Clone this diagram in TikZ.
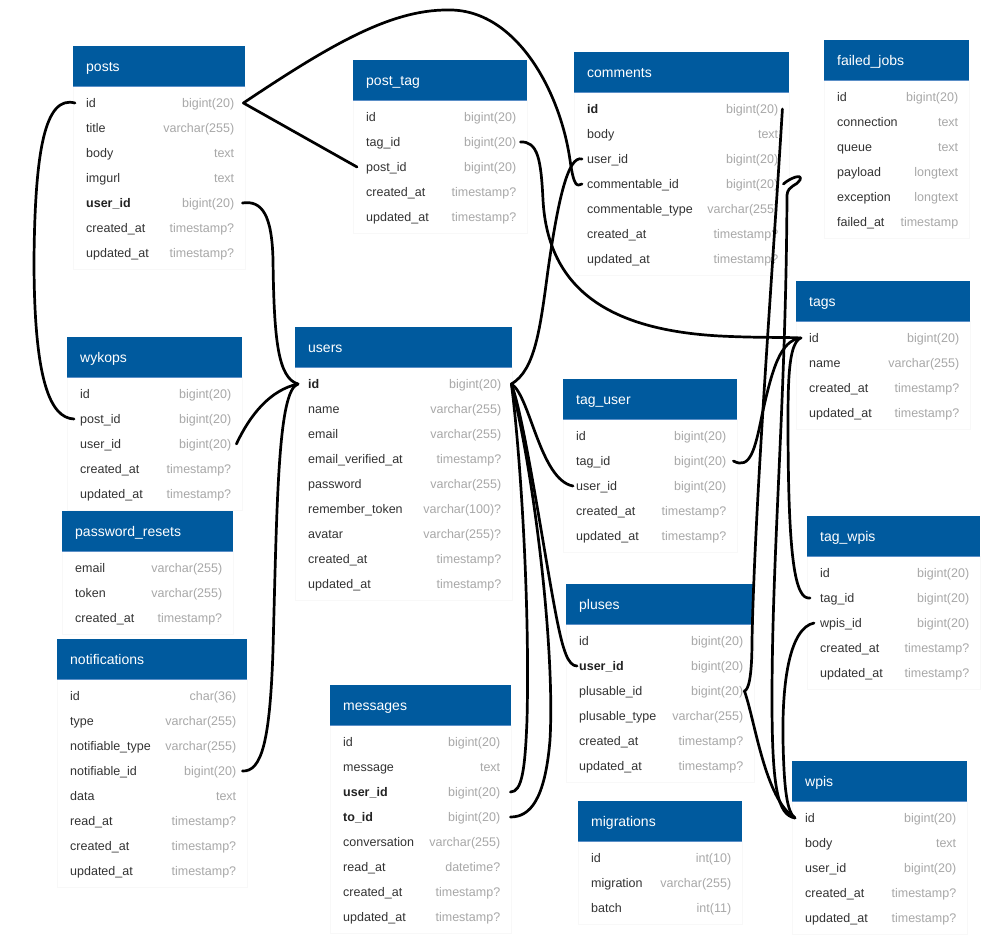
\documentclass[tikz,border=0pt]{standalone}
\usepackage{fontspec}
\setmainfont{Liberation Sans}
\definecolor{hdr}{HTML}{005A9E}
\definecolor{hdrline}{HTML}{5B8FC7}
\definecolor{fname}{HTML}{333333}
\definecolor{fbold}{HTML}{222222}
\definecolor{ftype}{HTML}{A8A8A8}
\definecolor{bodyline}{HTML}{F8F8F8}
\tikzset{
  hdrbox/.style={rectangle, fill=hdr, inner sep=0pt, minimum height=40pt},
  bodybox/.style={fill=white, draw=bodyline, line width=0.4pt},
  rowbox/.style={rectangle, inner sep=0pt, minimum height=25pt},
  hdrtext/.style={text=white, inner sep=0pt, font=\fontsize{14}{16}\selectfont, anchor=base west},
  nametext/.style={text=fname, inner sep=0pt, font=\fontsize{12.5}{15}\selectfont, anchor=base west},
  typetext/.style={text=ftype, inner sep=0pt, font=\fontsize{12.5}{15}\selectfont, anchor=base east},
  conn/.style={draw=black, line width=2.7pt, line cap=round, line join=round},
}
\newcommand\ertable[7]{%
  \path[bodybox] (#3,#4+40) rectangle ++(#5,{17+(#6-1)*25+16});
  \node[hdrbox, minimum width=#5pt, anchor=north west] (#1) at (#3,#4) {};
  \draw[hdrline, line width=1pt] (#1.south west) -- (#1.south east);
  \node[hdrtext] at ([xshift=13pt,yshift=-5pt]#1.west) {#2};
  \foreach \fldname/\fldtype/\fldw [count=\i] in {#7} {
    \node[rowbox, minimum width=#5pt, anchor=west] (#1-\fldname) at (#3,{#4+57+(\i-1)*25}) {};
    \if\fldw b\def\fldstyle{\bfseries\color{fbold}}\else\def\fldstyle{}\fi
    \node[nametext] at ([xshift=13pt,yshift=-4.5pt]#1-\fldname.west) {\fldstyle\fldname};
    \node[typetext] at ([xshift=-11pt,yshift=-4.5pt]#1-\fldname.east) {\fldtype};
  }%
}
\begin{document}
\catcode`\_=12
\begin{tikzpicture}[x=1pt,y=-1pt]
\fill[white] (0,0) rectangle (1000,950);
\useasboundingbox (0,0) rectangle (1000,950);

\ertable{posts}{posts}{73}{46}{172}{7}{id/bigint(20)/n, title/varchar(255)/n, body/text/n, imgurl/text/n, user_id/bigint(20)/b, created_at/timestamp?/n, updated_at/timestamp?/n}
\ertable{post_tag}{post_tag}{353}{60}{174}{5}{id/bigint(20)/n, tag_id/bigint(20)/n, post_id/bigint(20)/n, created_at/timestamp?/n, updated_at/timestamp?/n}
\ertable{comments}{comments}{574}{52}{215}{7}{id/bigint(20)/b, body/text/n, user_id/bigint(20)/n, commentable_id/bigint(20)/n, commentable_type/varchar(255)/n, created_at/timestamp?/n, updated_at/timestamp?/n}
\ertable{failed_jobs}{failed_jobs}{824}{40}{145}{6}{id/bigint(20)/n, connection/text/n, queue/text/n, payload/longtext/n, exception/longtext/n, failed_at/timestamp/n}
\ertable{tags}{tags}{796}{281}{174}{4}{id/bigint(20)/n, name/varchar(255)/n, created_at/timestamp?/n, updated_at/timestamp?/n}
\ertable{users}{users}{295}{327}{217}{9}{id/bigint(20)/b, name/varchar(255)/n, email/varchar(255)/n, email_verified_at/timestamp?/n, password/varchar(255)/n, remember_token/varchar(100)?/n, avatar/varchar(255)?/n, created_at/timestamp?/n, updated_at/timestamp?/n}
\ertable{wykops}{wykops}{67}{337}{175}{5}{id/bigint(20)/n, post_id/bigint(20)/n, user_id/bigint(20)/n, created_at/timestamp?/n, updated_at/timestamp?/n}
\ertable{tag_user}{tag_user}{563}{379}{174}{5}{id/bigint(20)/n, tag_id/bigint(20)/n, user_id/bigint(20)/n, created_at/timestamp?/n, updated_at/timestamp?/n}
\ertable{password_resets}{password_resets}{62}{511}{171}{3}{email/varchar(255)/n, token/varchar(255)/n, created_at/timestamp?/n}
\ertable{tag_wpis}{tag_wpis}{807}{516}{173}{5}{id/bigint(20)/n, tag_id/bigint(20)/n, wpis_id/bigint(20)/n, created_at/timestamp?/n, updated_at/timestamp?/n}
\ertable{pluses}{pluses}{566}{584}{188}{6}{id/bigint(20)/n, user_id/bigint(20)/b, plusable_id/bigint(20)/n, plusable_type/varchar(255)/n, created_at/timestamp?/n, updated_at/timestamp?/n}
\ertable{notifications}{notifications}{57}{639}{190}{8}{id/char(36)/n, type/varchar(255)/n, notifiable_type/varchar(255)/n, notifiable_id/bigint(20)/n, data/text/n, read_at/timestamp?/n, created_at/timestamp?/n, updated_at/timestamp?/n}
\ertable{messages}{messages}{330}{685}{181}{8}{id/bigint(20)/n, message/text/n, user_id/bigint(20)/b, to_id/bigint(20)/b, conversation/varchar(255)/n, read_at/datetime?/n, created_at/timestamp?/n, updated_at/timestamp?/n}
\ertable{migrations}{migrations}{578}{801}{164}{3}{id/int(10)/n, migration/varchar(255)/n, batch/int(11)/n}
\ertable{wpis}{wpis}{792}{761}{175}{5}{id/bigint(20)/n, body/text/n, user_id/bigint(20)/n, created_at/timestamp?/n, updated_at/timestamp?/n}

% connectors
\draw[conn] ([xshift=-2pt]posts-id.east) -- ([xshift=4pt]post_tag-post_id.west);
\draw[conn] ([xshift=-2pt]posts-id.east) .. controls (330,45) and (390,10) .. (447,10) .. controls (515,8) and (560,90) .. (570,160) .. controls (574,188) and (577,186) .. ([xshift=8pt]comments-commentable_id.west);
\draw[conn] ([xshift=-1pt]users-id.east) .. controls (535,370) and (540,330) .. (548,270) .. controls (558,200) and (568,155) .. ([xshift=8pt]comments-user_id.west);
\draw[conn] ([xshift=-7pt]post_tag-tag_id.east) .. controls (538,141) and (541,160) .. (543,200) .. controls (548,290) and (610,330) .. (720,336) .. controls (760,338) and (785,337) .. ([xshift=5pt]tags-id.west);
\draw[conn] ([xshift=-4pt]tag_user-tag_id.east) .. controls (750,470) and (755,450) .. (762,415) .. controls (772,370) and (780,340) .. ([xshift=5pt]tags-id.west);
\draw[conn] ([xshift=4pt]tags-id.west) .. controls (790,345) and (788,370) .. (788,420) .. controls (788,560) and (795,600) .. ([xshift=3pt]tag_wpis-tag_id.west);
\draw[conn] ([xshift=-7pt]comments-id.east) .. controls (772,280) and (755,500) .. (752,640) .. controls (752,680) and (748,690) .. ([xshift=-10pt]pluses-plusable_id.east);
\draw[conn] ([xshift=-10pt]pluses-plusable_id.east) .. controls (755,720) and (765,800) .. ([xshift=3pt]wpis-id.west);
\draw[conn] ([xshift=-6pt]comments-commentable_id.east) .. controls (790,178) and (803,173) .. (800,180) .. controls (797,186) and (788,185) .. (787,195) .. controls (786,400) and (772,550) .. (772,700) .. controls (772,790) and (778,815) .. ([xshift=3pt]wpis-id.west);
\draw[conn] ([xshift=7pt]tag_wpis-wpis_id.west) .. controls (790,628) and (782,680) .. (783,740) .. controls (784,790) and (787,812) .. ([xshift=3pt]wpis-id.west);
\draw[conn] ([xshift=-1pt]users-id.east) .. controls (530,395) and (540,480) .. ([xshift=10pt]tag_user-user_id.west);
\draw[conn] ([xshift=-1pt]users-id.east) .. controls (525,420) and (545,560) .. (557,620) .. controls (563,650) and (568,666) .. ([xshift=11pt]pluses-user_id.west);
\draw[conn] ([xshift=-1pt]users-id.east) .. controls (520,450) and (530,600) .. (527,720) .. controls (525,770) and (522,792) .. ([xshift=-1pt]messages-user_id.east);
\draw[conn] ([xshift=-1pt]users-id.east) .. controls (535,480) and (555,650) .. (550,740) .. controls (545,800) and (530,817) .. ([xshift=-1pt]messages-to_id.east);
\draw[conn] ([xshift=-3pt]posts-user_id.east) .. controls (262,200) and (272,215) .. (273,260) .. controls (274,340) and (278,378) .. ([xshift=3pt]users-id.west);
\draw[conn] ([xshift=-6pt]wykops-user_id.east) .. controls (250,415) and (270,390) .. ([xshift=3pt]users-id.west);
\draw[conn] ([xshift=-5pt]notifications-notifiable_id.east) .. controls (262,772) and (270,740) .. (273,650) .. controls (277,500) and (278,390) .. ([xshift=3pt]users-id.west);
\draw[conn] ([xshift=2pt]posts-id.west) .. controls (45,95) and (35,150) .. (34,260) .. controls (34,380) and (50,418) .. ([xshift=7pt]wykops-post_id.west);
\end{tikzpicture}
\end{document}
